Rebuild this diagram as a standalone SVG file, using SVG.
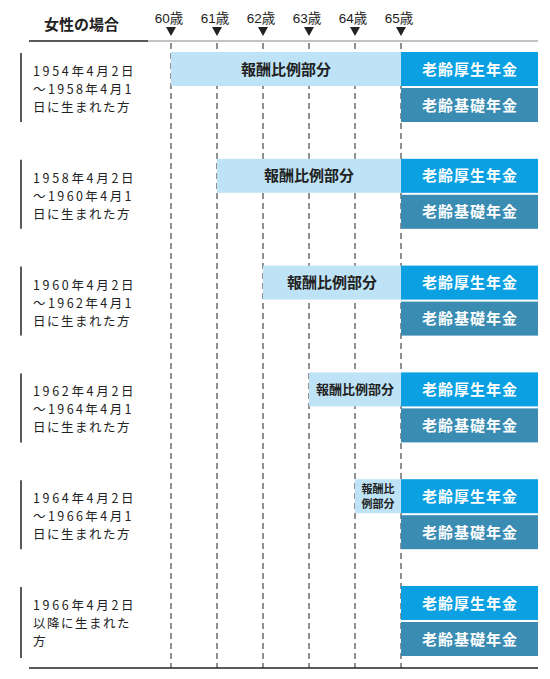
<svg xmlns="http://www.w3.org/2000/svg" width="550" height="679" viewBox="0 0 550 679">
<style>
text{font-family:"Noto Sans CJK JP","Noto Sans",sans-serif;}
.hd{font-size:15px;font-weight:bold;fill:#222;}
.age{font-size:13.5px;fill:#222;font-family:"Liberation Sans","Noto Sans CJK JP",sans-serif;text-anchor:middle;}
.lt{font-size:12.5px;fill:#222;letter-spacing:1.5px;}
.bl{font-size:15px;font-weight:bold;fill:#222;text-anchor:middle;}
.bs{font-size:13px;font-weight:bold;fill:#222;text-anchor:middle;}
.bx{font-size:11px;font-weight:bold;fill:#222;text-anchor:middle;}
.wt{font-size:15px;font-weight:bold;fill:#fff;text-anchor:middle;letter-spacing:1px;}
.light{fill:#bee3f6;}
.kosei{fill:#0aa0e2;}
.kiso{fill:#3a8cb3;}
.dash{stroke:#222;stroke-width:1;stroke-dasharray:6 4;fill:none;}
.lb{stroke:#222;stroke-width:1.5;}
</style>
<rect width="550" height="679" fill="#fff"/>
<g id="header">
<text class="hd" x="44" y="30">女性の場合</text>
<line x1="29" y1="41" x2="148" y2="41" stroke="#222" stroke-width="1.5"/>
<line x1="148" y1="41" x2="538" y2="41" stroke="#888" stroke-width="1.2"/>
<line x1="29" y1="668" x2="538" y2="668" stroke="#222" stroke-width="1.5"/>
</g>
<g id="ages">
<text class="age" x="169" y="23">60歳</text>
<text class="age" x="215" y="23">61歳</text>
<text class="age" x="261" y="23">62歳</text>
<text class="age" x="307" y="23">63歳</text>
<text class="age" x="353" y="23">64歳</text>
<text class="age" x="399" y="23">65歳</text>
<polygon points="166,27 176,27 171,36" fill="#222"/>
<polygon points="212,27 222,27 217,36" fill="#222"/>
<polygon points="258,27 268,27 263,36" fill="#222"/>
<polygon points="304,27 314,27 309,36" fill="#222"/>
<polygon points="350,27 360,27 355,36" fill="#222"/>
<polygon points="396,27 406,27 401,36" fill="#222"/>
</g>
<g id="connectors">
<line class="dash" x1="171" y1="43" x2="171" y2="668"/>
<line class="dash" x1="217" y1="43" x2="217" y2="668"/>
<line class="dash" x1="263" y1="43" x2="263" y2="668"/>
<line class="dash" x1="309" y1="43" x2="309" y2="668"/>
<line class="dash" x1="355" y1="43" x2="355" y2="668"/>
<line class="dash" x1="401" y1="43" x2="401" y2="668"/>
</g>
<g id="row1">
<line class="lb" x1="21" y1="53" x2="21" y2="122"/>
<text class="lt" x="33" y="76" textLength="102" lengthAdjust="spacing">1954年4月2日</text>
<text class="lt" x="33" y="94" textLength="100" lengthAdjust="spacing">～1958年4月1</text>
<text class="lt" x="33" y="112">日に生まれた方</text>
<rect class="light" x="171" y="52" width="230" height="34"/>
<text class="bl" x="286" y="74.5">報酬比例部分</text>
<rect class="kosei" x="401" y="52" width="137" height="34"/>
<text class="wt" x="470" y="74.5">老齢厚生年金</text>
<rect class="kiso" x="401" y="88" width="137" height="34"/>
<text class="wt" x="470" y="110.5">老齢基礎年金</text>
</g>
<g id="row2" transform="translate(0,106.8)">
<line class="lb" x1="21" y1="53" x2="21" y2="122"/>
<text class="lt" x="33" y="76" textLength="102" lengthAdjust="spacing">1958年4月2日</text>
<text class="lt" x="33" y="94" textLength="100" lengthAdjust="spacing">～1960年4月1</text>
<text class="lt" x="33" y="112">日に生まれた方</text>
<rect class="light" x="217" y="52" width="184" height="34"/>
<text class="bl" x="309" y="74.5">報酬比例部分</text>
<rect class="kosei" x="401" y="52" width="137" height="34"/>
<text class="wt" x="470" y="74.5">老齢厚生年金</text>
<rect class="kiso" x="401" y="88" width="137" height="34"/>
<text class="wt" x="470" y="110.5">老齢基礎年金</text>
</g>
<g id="row3" transform="translate(0,213.6)">
<line class="lb" x1="21" y1="53" x2="21" y2="122"/>
<text class="lt" x="33" y="76" textLength="102" lengthAdjust="spacing">1960年4月2日</text>
<text class="lt" x="33" y="94" textLength="100" lengthAdjust="spacing">～1962年4月1</text>
<text class="lt" x="33" y="112">日に生まれた方</text>
<rect class="light" x="263" y="52" width="138" height="34"/>
<text class="bl" x="332" y="74.5">報酬比例部分</text>
<rect class="kosei" x="401" y="52" width="137" height="34"/>
<text class="wt" x="470" y="74.5">老齢厚生年金</text>
<rect class="kiso" x="401" y="88" width="137" height="34"/>
<text class="wt" x="470" y="110.5">老齢基礎年金</text>
</g>
<g id="row4" transform="translate(0,320.4)">
<line class="lb" x1="21" y1="53" x2="21" y2="122"/>
<text class="lt" x="33" y="76" textLength="102" lengthAdjust="spacing">1962年4月2日</text>
<text class="lt" x="33" y="94" textLength="100" lengthAdjust="spacing">～1964年4月1</text>
<text class="lt" x="33" y="112">日に生まれた方</text>
<rect class="light" x="309" y="52" width="92" height="34"/>
<text class="bs" x="355" y="73.5">報酬比例部分</text>
<rect class="kosei" x="401" y="52" width="137" height="34"/>
<text class="wt" x="470" y="74.5">老齢厚生年金</text>
<rect class="kiso" x="401" y="88" width="137" height="34"/>
<text class="wt" x="470" y="110.5">老齢基礎年金</text>
</g>
<g id="row5" transform="translate(0,427.2)">
<line class="lb" x1="21" y1="53" x2="21" y2="122"/>
<text class="lt" x="33" y="76" textLength="102" lengthAdjust="spacing">1964年4月2日</text>
<text class="lt" x="33" y="94" textLength="100" lengthAdjust="spacing">～1966年4月1</text>
<text class="lt" x="33" y="112">日に生まれた方</text>
<rect class="light" x="355" y="52" width="46" height="34"/>
<text class="bx" x="378" y="66">報酬比</text>
<text class="bx" x="378" y="81">例部分</text>
<rect class="kosei" x="401" y="52" width="137" height="34"/>
<text class="wt" x="470" y="74.5">老齢厚生年金</text>
<rect class="kiso" x="401" y="88" width="137" height="34"/>
<text class="wt" x="470" y="110.5">老齢基礎年金</text>
</g>
<g id="row6" transform="translate(0,534)">
<line class="lb" x1="21" y1="53" x2="21" y2="124"/>
<text class="lt" x="33" y="76" textLength="102" lengthAdjust="spacing">1966年4月2日</text>
<text class="lt" x="33" y="94">以降に生まれた</text>
<text class="lt" x="33" y="112">方</text>
<rect class="kosei" x="401" y="52" width="137" height="34"/>
<text class="wt" x="470" y="74.5">老齢厚生年金</text>
<rect class="kiso" x="401" y="88" width="137" height="34"/>
<text class="wt" x="470" y="110.5">老齢基礎年金</text>
</g>
</svg>
